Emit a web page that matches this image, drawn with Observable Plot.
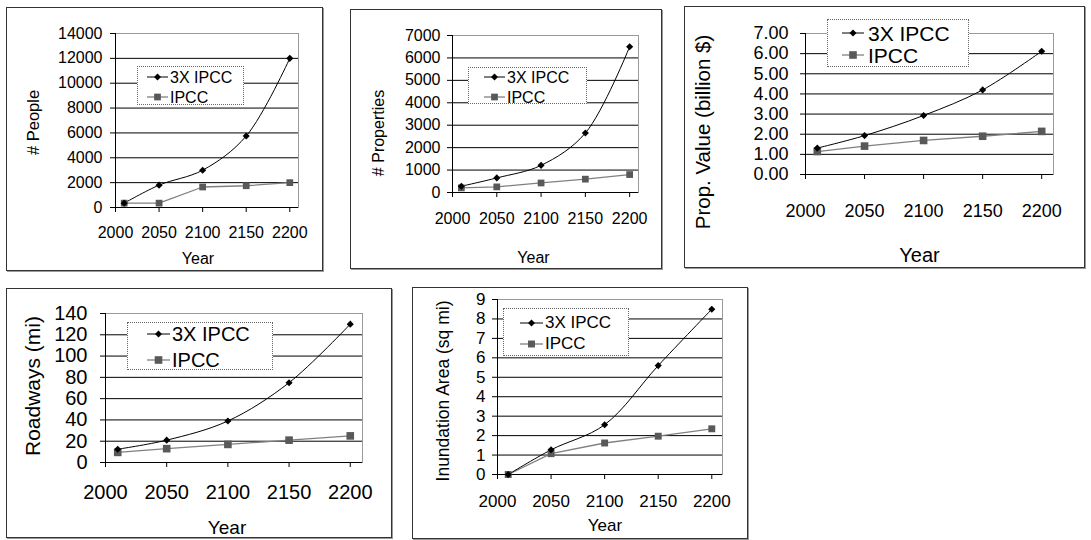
<!DOCTYPE html>
<html><head><meta charset="utf-8">
<script src="https://cdn.jsdelivr.net/npm/d3@7"></script>
<script src="https://cdn.jsdelivr.net/npm/@observablehq/plot@0.6"></script>
<style>
html,body{margin:0;padding:0;background:#fff;}
#root{position:relative;width:1091px;height:540px;overflow:hidden;font-family:"Liberation Sans",Arial,sans-serif;background:#fff;}
.box{position:absolute;box-sizing:border-box;border:1px solid #333;box-shadow:1px 1px 0 #9a9a9a;}
.box svg{position:absolute;left:-1px;top:-1px;max-width:none;}
.legend{position:absolute;box-sizing:border-box;border:1px dotted #666;background:#fff;}
.entry{position:absolute;white-space:nowrap;color:#000;}
</style></head><body><div id="root"></div>
<script>
// ---- data ----
const years = [2010, 2050, 2100, 2150, 2200];
const xTicks = [2000, 2050, 2100, 2150, 2200];
const seriesNames = ["3X IPCC", "IPCC"];
const xAxisTitle = "Year";

const people3x   = [350, 1800, 3000, 5750, 12000];
const peopleIpcc = [350, 350, 1650, 1750, 2000];
const peopleTicks = [0, 2000, 4000, 6000, 8000, 10000, 12000, 14000];

const props3x   = [280, 650, 1210, 2650, 6500];
const propsIpcc = [205, 250, 425, 595, 800];
const propsTicks = [0, 1000, 2000, 3000, 4000, 5000, 6000, 7000];

const value3x   = [1.31, 1.93, 2.93, 4.20, 6.12];
const valueIpcc = [1.14, 1.41, 1.69, 1.90, 2.14];
const valueTicks = [0, 1, 2, 3, 4, 5, 6, 7];

const road3x   = [12.5, 21, 39, 75, 130];
const roadIpcc = [9.5, 13, 17, 21, 25];
const roadTicks = [0, 20, 40, 60, 80, 100, 120, 140];

const area3x   = [0, 1.27, 2.56, 5.6, 8.5];
const areaIpcc = [0, 1.07, 1.62, 1.97, 2.35];
const areaTicks = [0, 1, 2, 3, 4, 5, 6, 7, 8, 9];

// ---- layout (positions/styles) ----
const charts = [
  {title: "# People", a: people3x, b: peopleIpcc, ticks: peopleTicks, fmt: d => String(d),
   box: [6, 7, 317, 264], m: [26, 25, 64, 109], font: 16, padY: 8, padX: 14,
   tFont: 16.5, tDx: -82, tDy: 2, yFont: 16, yDy: 51, yDx: -9, sq: 3.8,
   lg: {x: 131, y: 59, w: 107, h: 39, rows: [70, 90], lx: [141, 162], tx: 164, font: 16}},
  {title: "# Properties", a: props3x, b: propsIpcc, ticks: propsTicks, fmt: d => String(d),
   box: [350, 9, 312, 260], m: [26, 24, 77, 102], font: 16, padY: 7, padX: 15,
   tFont: 16, tDx: -74, tDy: 19, yFont: 16, yDy: 65, yDx: -12, sq: 3.8,
   lg: {x: 118, y: 58, w: 119, h: 37, rows: [68, 88], lx: [134, 155], tx: 157, font: 16}},
  {title: "Prop. Value (billion $)", a: value3x, b: valueIpcc, ticks: valueTicks, fmt: d => d.toFixed(2),
   box: [684, 6, 401, 262], m: [27, 32, 94, 121], font: 18, padY: 12, padX: 25,
   tFont: 20.5, tDx: -102, tDy: 28, yFont: 20, yDy: 81, yDx: -10, sq: 4.3,
   lg: {x: 143, y: 13, w: 142, h: 48, rows: [27, 49], lx: [158, 180], tx: 184, font: 21}},
  {title: "Roadways (mi)", a: road3x, b: roadIpcc, ticks: roadTicks, fmt: d => String(d),
   box: [6, 288, 386, 250], m: [25, 30, 76, 99], font: 20, padY: 13, padX: 17,
   tFont: 21, tDx: -72, tDy: -2, yFont: 19, yDy: 65, yDx: -7, sq: 4.3,
   lg: {x: 121, y: 34, w: 146, h: 48, rows: [46, 72], lx: [141, 164], tx: 166, font: 20}},
  {title: "Inundation Area (sq mi)", a: area3x, b: areaIpcc, ticks: areaTicks, fmt: d => String(d),
   box: [412, 287, 336, 252], m: [12, 26, 65, 85], font: 17, padY: 7, padX: 15,
   tFont: 17.5, tDx: -54, tDy: 4, yFont: 17, yDy: 51, yDx: -5, sq: 3.9,
   lg: {x: 91, y: 21, w: 126, h: 48, rows: [36, 57], lx: [108, 131], tx: 133, font: 17}}
];

const root = document.getElementById("root");
const FONT = "'Liberation Sans', Arial, sans-serif";

for (const c of charts) {
  const [bx, by, bw, bh] = c.box;
  const [mt, mr, mb, ml] = c.m;
  const rowsA = years.map((year, i) => ({year, value: c.a[i]}));
  const rowsB = years.map((year, i) => ({year, value: c.b[i]}));
  const ymax = c.ticks[c.ticks.length - 1];

  const box = document.createElement("div");
  box.className = "box";
  Object.assign(box.style, {left: bx + "px", top: by + "px", width: bw + "px", height: bh + "px"});
  root.appendChild(box);

  const svg = Plot.plot({
    width: bw, height: bh,
    marginTop: mt, marginRight: mr, marginBottom: mb, marginLeft: ml,
    style: {fontFamily: FONT, fontSize: c.font + "px", color: "#000", background: "none", overflow: "visible"},
    x: {type: "linear", domain: [2000, 2210], ticks: xTicks, tickSize: 5, tickPadding: c.padX, tickFormat: d => String(d), label: null},
    y: {type: "linear", domain: [0, ymax], ticks: c.ticks, tickSize: 5, tickPadding: c.padY, tickFormat: c.fmt, label: null},
    marks: [
      Plot.ruleY(c.ticks.filter(t => t > 0 && t < ymax), {stroke: "#000", strokeWidth: 1}),
      Plot.frame({stroke: "#9a9a9a"}),
      Plot.ruleY([0], {stroke: "#000"}),
      Plot.ruleX([2000], {stroke: "#000"}),
      Plot.line(rowsB, {x: "year", y: "value", stroke: "#808080", strokeWidth: 1.3}),
      Plot.line(rowsA, {x: "year", y: "value", stroke: "#000", strokeWidth: 1, curve: "catmull-rom"}),
      Plot.dot(rowsB, {x: "year", y: "value", symbol: "square", r: c.sq, fill: "#595959", stroke: "none"}),
      Plot.dot(rowsA, {x: "year", y: "value", symbol: "diamond2", r: 3.2, fill: "#000", stroke: "none"}),
      Plot.text([c.title], {text: d => d, frameAnchor: "left", rotate: -90, textAnchor: "middle", lineAnchor: "middle",
        dx: c.tDx, dy: c.tDy, fontSize: c.tFont + "px", fill: "#000"}),
      Plot.text([xAxisTitle], {text: d => d, frameAnchor: "bottom", textAnchor: "middle", lineAnchor: "middle",
        dx: c.yDx, dy: c.yDy, fontSize: c.yFont + "px", fill: "#000"})
    ]
  });
  svg.style.maxWidth = "none";
  svg.style.background = "none";
  // make sure title sizes are applied on the text nodes themselves
  svg.querySelectorAll("text").forEach(t => {
    if (t.textContent === c.title) t.setAttribute("font-size", c.tFont);
    if (t.textContent === xAxisTitle) t.setAttribute("font-size", c.yFont);
  });
  box.appendChild(svg);

  // legend
  const lg = c.lg;
  const leg = document.createElement("div");
  leg.className = "legend";
  Object.assign(leg.style, {left: (lg.x - 1) + "px", top: (lg.y - 1) + "px", width: lg.w + "px", height: lg.h + "px"});
  box.appendChild(leg);
  seriesNames.forEach((name, i) => {
    const cy = lg.rows[i] - lg.y - 1;
    const lw = lg.lx[1] - lg.lx[0];
    const s = document.createElementNS("http://www.w3.org/2000/svg", "svg");
    s.setAttribute("width", lw + 8);
    s.setAttribute("height", 12);
    Object.assign(s.style, {position: "absolute", left: (lg.lx[0] - lg.x - 1 - 4) + "px", top: (cy - 6) + "px", overflow: "visible"});
    const mx = 4 + lw / 2;
    if (i === 0) {
      s.innerHTML = `<line x1="4" x2="${4 + lw}" y1="6" y2="6" stroke="#000" stroke-width="1"/>` +
        `<path d="M${mx},2.5L${mx + 3.5},6L${mx},9.5L${mx - 3.5},6Z" fill="#000"/>`;
    } else {
      const h = c.sq * 0.886;
      s.innerHTML = `<line x1="4" x2="${4 + lw}" y1="6" y2="6" stroke="#808080" stroke-width="1.3"/>` +
        `<rect x="${mx - h}" y="${6 - h}" width="${2 * h}" height="${2 * h}" fill="#595959"/>`;
    }
    leg.appendChild(s);
    const t = document.createElement("div");
    t.className = "entry";
    t.textContent = name;
    const lh = Math.round(lg.font * 1.2);
    Object.assign(t.style, {left: (lg.tx - lg.x - 1) + "px", top: (cy - lh / 2) + "px", fontSize: lg.font + "px", lineHeight: lh + "px"});
    leg.appendChild(t);
  });
}
</script></body></html>
